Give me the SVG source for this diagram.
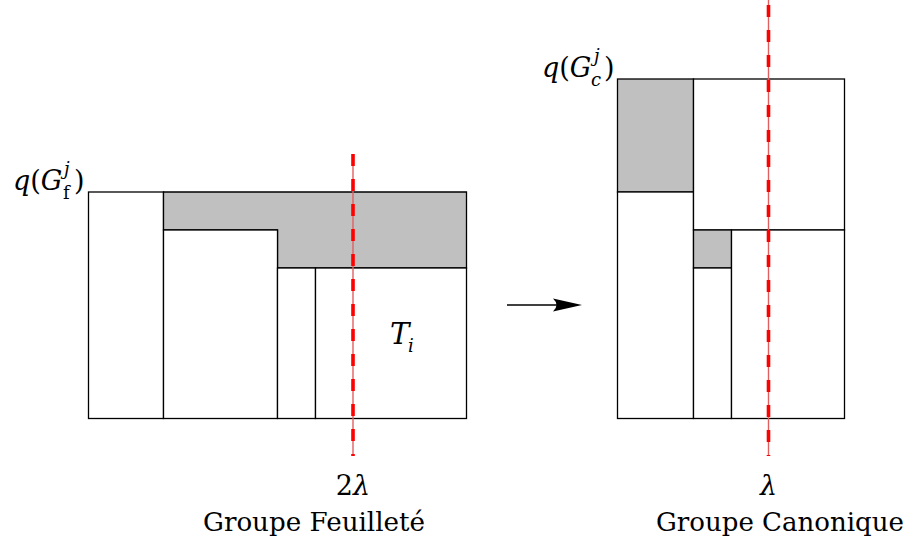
<svg xmlns="http://www.w3.org/2000/svg" width="910" height="543" viewBox="0 0 910 543">
<defs>
<style>
.box{fill:#ffffff;stroke:#000000;stroke-width:1.3}
.shade{fill:#c0c0c0;stroke:#000000;stroke-width:1.3}
.thin{stroke:#e06060;stroke-width:1.4;fill:none}
.dash{stroke:#ff0000;stroke-width:3.6;stroke-dasharray:12 13;fill:none}
.t{font-family:'DejaVu Serif','Liberation Serif',serif;font-size:27px;fill:#000000}
.m{font-style:italic}
.s{font-size:18px}
</style>
</defs>
<rect width="910" height="543" fill="#ffffff"/>
<g id="feuillete">
<g id="f-col1"><rect class="box" x="88.5" y="192" width="75" height="226.5"/></g>
<g id="f-shade"><polygon class="shade" points="163.5,192 466.5,192 466.5,268 277.5,268 277.5,230 163.5,230"/></g>
<g id="f-col2"><rect class="box" x="163.5" y="230" width="114" height="188.5"/></g>
<g id="f-col3"><rect class="box" x="277.5" y="268" width="38" height="150.5"/></g>
<g id="f-Ti"><rect class="box" x="315.5" y="268" width="151" height="150.5"/>
<text class="t m" x="390" y="344" style="font-size:29px">T<tspan class="s" x="408" y="352">i</tspan></text></g>
</g>
<g id="canonique">
<g id="c-shade1"><rect class="shade" x="617.5" y="79" width="76" height="113"/></g>
<g id="c-col1"><rect class="box" x="617.5" y="192" width="76" height="226.5"/></g>
<g id="c-top"><rect class="box" x="693.5" y="79" width="151" height="151"/></g>
<g id="c-shade2"><rect class="shade" x="693.5" y="230" width="38" height="38"/></g>
<g id="c-col2"><rect class="box" x="693.5" y="268" width="38" height="150.5"/></g>
<g id="c-col3"><rect class="box" x="731.5" y="230" width="113" height="188.5"/></g>
</g>
<g id="cuts">
<line class="thin" x1="353" y1="154" x2="353" y2="456"/>
<line class="dash" x1="353" y1="154" x2="353" y2="456"/>
<line class="thin" x1="768.5" y1="0" x2="768.5" y2="456"/>
<line class="dash" x1="768.5" y1="5" x2="768.5" y2="456"/>
</g>
<g id="connectors">
<line x1="507" y1="305" x2="562" y2="305" stroke="#000000" stroke-width="1.5"/>
<path d="M582,305 L553,298.5 Q560,305 553,311.5 Z" fill="#000000"/>
</g>
<g id="labels">
<text class="t" x="13" y="190"><tspan class="m">q</tspan>(<tspan class="m">G</tspan><tspan class="m s" x="64" y="175">j</tspan><tspan class="s" x="63" y="199">f</tspan><tspan x="74" y="190">)</tspan></text>
<text class="t" x="542" y="77"><tspan class="m">q</tspan>(<tspan class="m">G</tspan><tspan class="m s" x="594" y="62">j</tspan><tspan class="m s" x="591" y="86">c</tspan><tspan x="604" y="77">)</tspan></text>
<text class="t" x="353" y="495" text-anchor="middle">2<tspan class="m">λ</tspan></text>
<text class="t m" x="768.5" y="495" text-anchor="middle">λ</text>
<text class="t" x="203" y="531" style="font-size:26px" textLength="222" lengthAdjust="spacingAndGlyphs">Groupe Feuilleté</text>
<text class="t" x="656" y="531" style="font-size:26px" textLength="248" lengthAdjust="spacingAndGlyphs">Groupe Canonique</text>
</g>
</svg>
